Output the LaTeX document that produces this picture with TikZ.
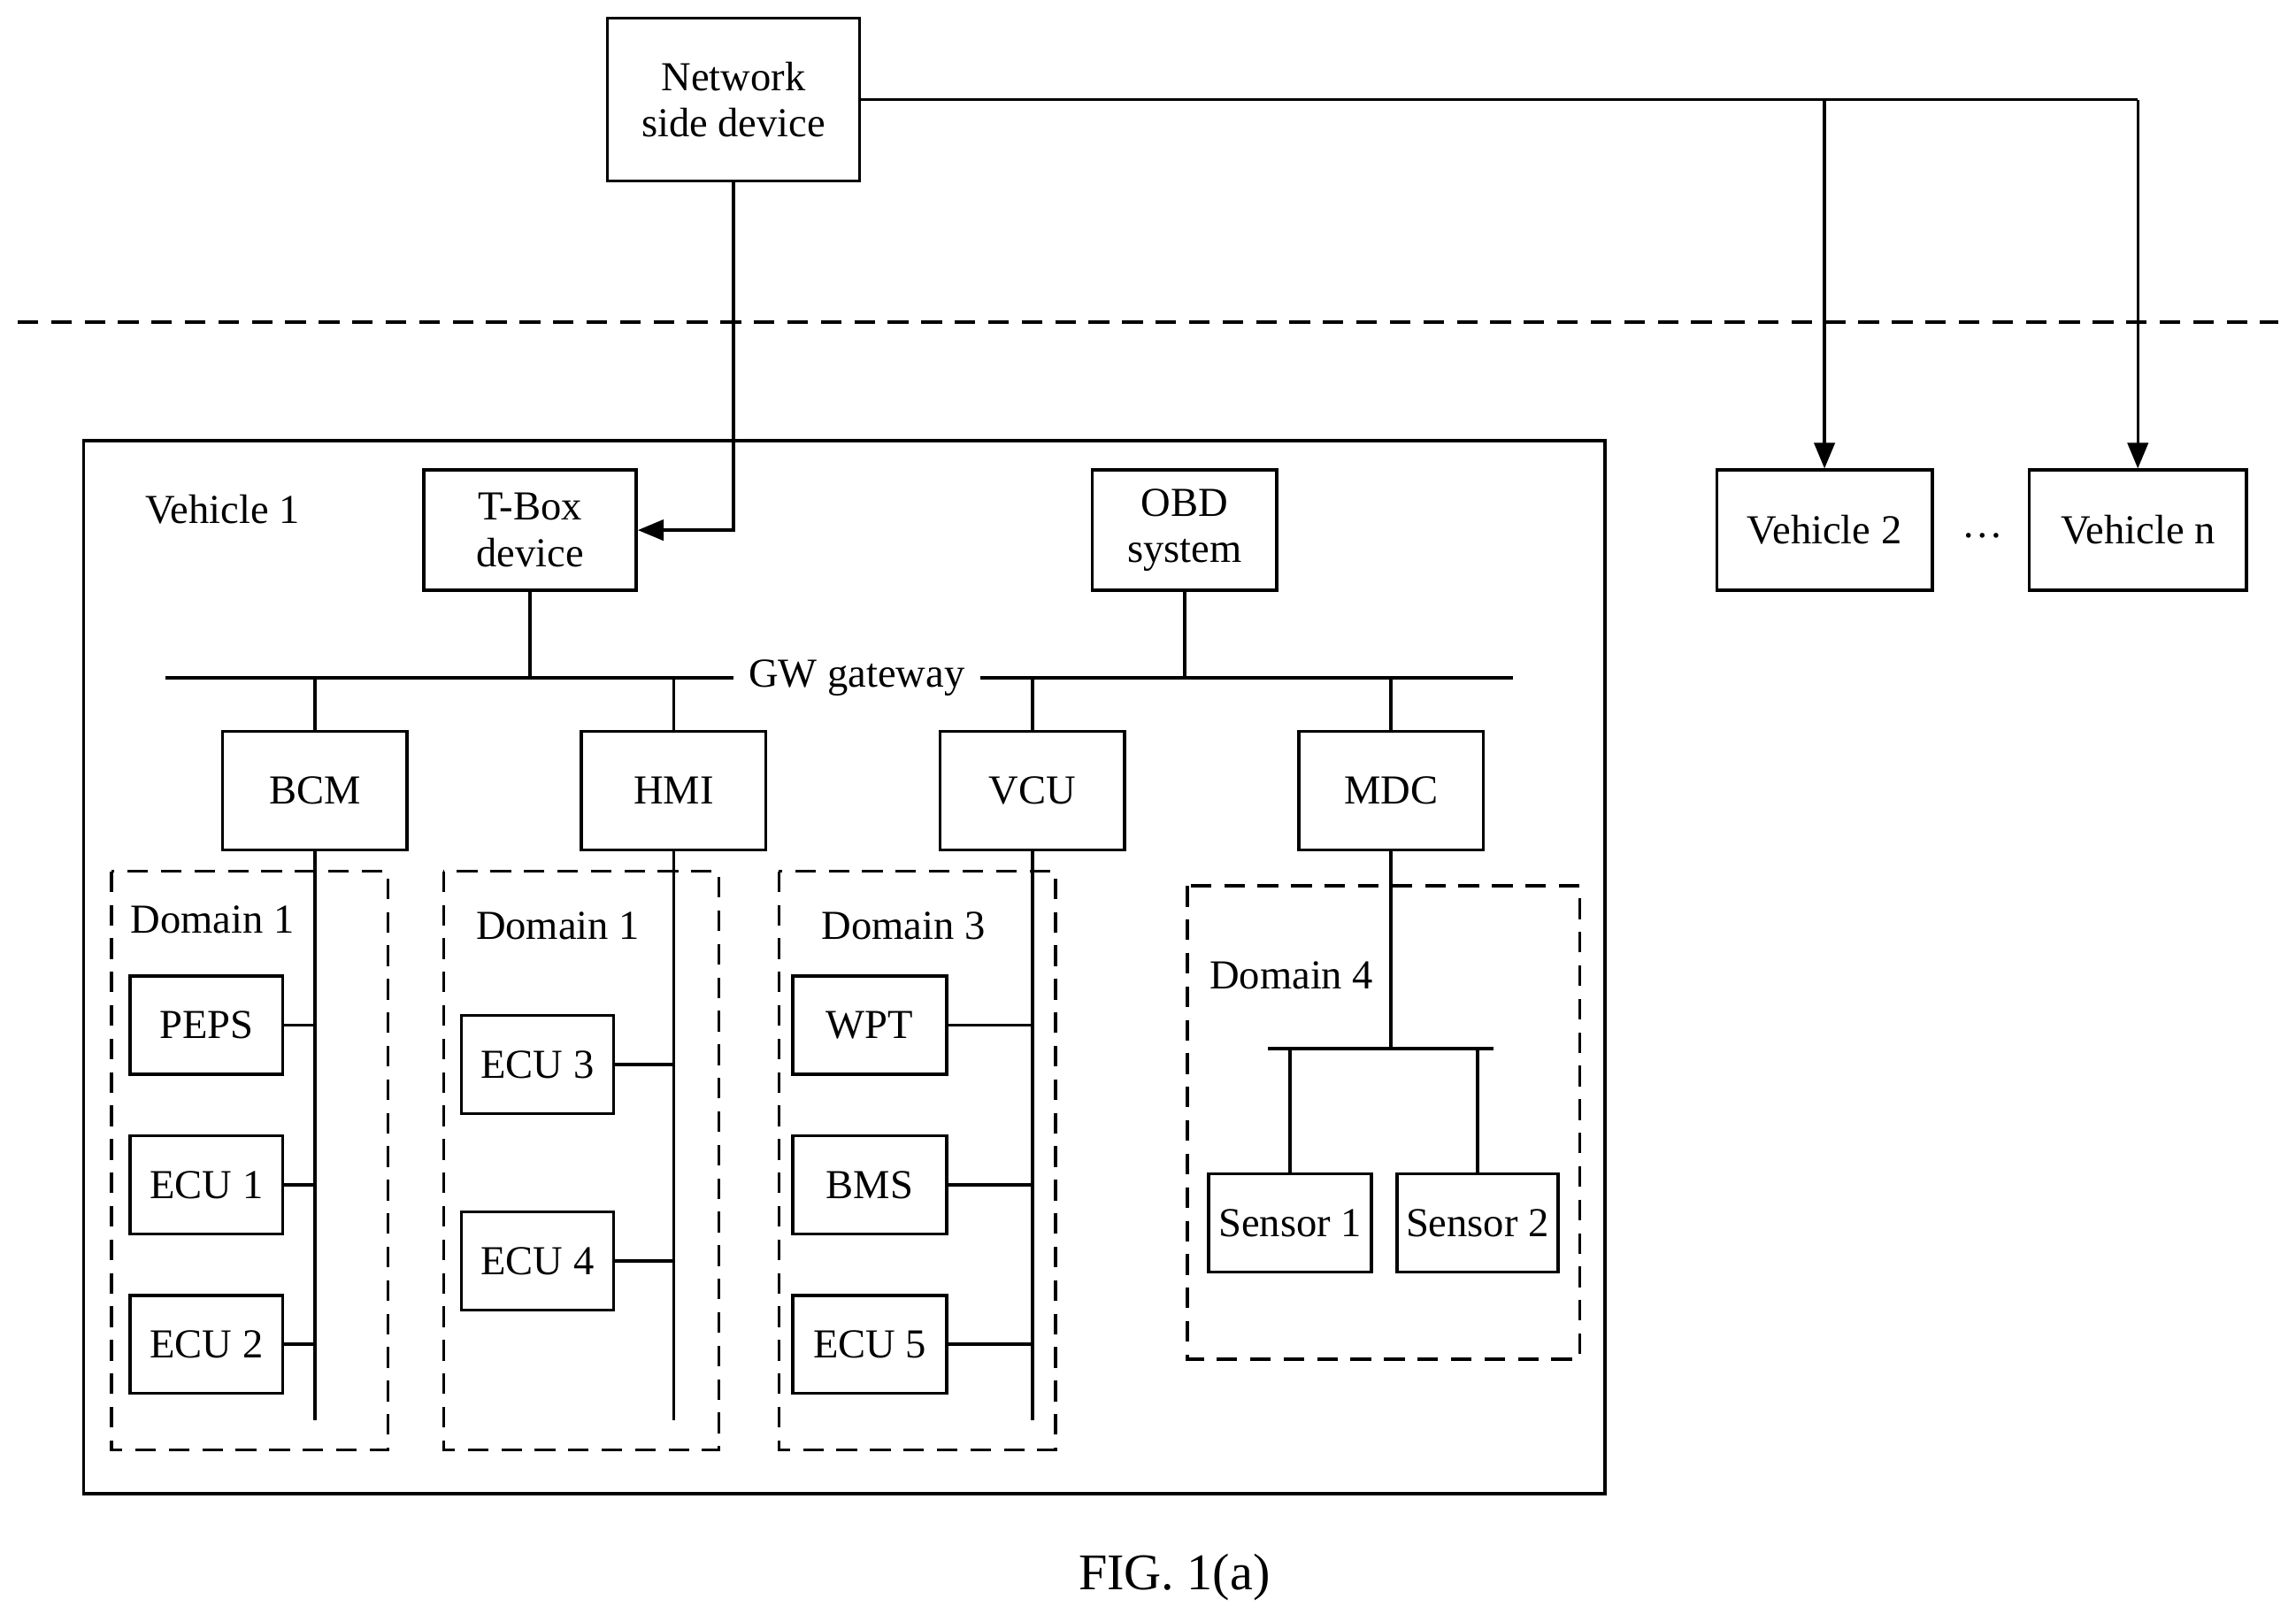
\documentclass[tikz,border=0pt]{standalone}
\usepackage{fontspec}
\setmainfont{Liberation Serif}
\usetikzlibrary{arrows.meta}
\begin{document}
\begin{tikzpicture}[x=0.01cm, y=-0.01cm, >={Triangle[length=5pt,width=4pt]},
		box/.style={draw=black, semithick, align=center, inner sep=1pt, font=\fontsize{8}{9}\selectfont},
		dom/.style={draw=black, semithick, dash pattern=on 4pt off 2.5pt},
		edge_style/.style={draw=black, semithick},
		lbl/.style={font=\fontsize{8}{9}\selectfont}]
	\useasboundingbox (0,0) rectangle (1568,1107);

	\node[box, minimum width=1.72cm, minimum height=1.11cm] (net) at (501,68)  {Network\\side device};
	\draw[dom] (12,220) -- (1556,220);

	\draw[semithick] (57,301) rectangle (1096,1020);
	\node[lbl] (v1) at (152,348) {Vehicle 1};

	\node[box, minimum width=1.45cm, minimum height=0.82cm] (tbox) at (362,362) {T-Box\\device};
	\node[box, minimum width=1.26cm, minimum height=0.82cm] (obd) at (809,362) {OBD\\system};
	\node[box, minimum width=1.47cm, minimum height=0.82cm] (v2) at (1246,362) {Vehicle 2};
	\node[box, minimum width=1.48cm, minimum height=0.82cm] (vn) at (1460,362) {Vehicle n};
	\node[lbl] (dots) at (1354,366) {\dots};

	\coordinate (b2) at (1246,68);
	\coordinate (bn) at (1460,68);
	\draw[edge_style] (net.east |- b2) -- (bn);
	\draw[edge_style,->] (b2) -- (v2.north);
	\draw[edge_style,->] (bn) -- (vn.north);
	\draw[edge_style,->] (net.south) |- (tbox.east);

	% GW gateway bus
	\coordinate (gwl) at (113,463);
	\coordinate (gwr) at (1033,463);
	\draw[edge_style] (gwl) -- (gwr);
	\node[lbl, fill=white, inner sep=3pt] (gw) at (585,463) {GW gateway};
	\draw[edge_style] (tbox.south) -- (tbox.south |- gwl);
	\draw[edge_style] (obd.south) -- (obd.south |- gwl);

	\node[box, minimum width=1.26cm, minimum height=0.81cm] (bcm) at (215,540) {BCM};
	\node[box, minimum width=1.26cm, minimum height=0.81cm] (hmi) at (460,540) {HMI};
	\node[box, minimum width=1.26cm, minimum height=0.81cm] (vcu) at (705,540) {VCU};
	\node[box, minimum width=1.26cm, minimum height=0.81cm] (mdc) at (950,540) {MDC};
	\foreach \n in {bcm,hmi,vcu,mdc}
		\draw[edge_style] (\n.north) -- (\n.north |- gwl);

	% domains
	\draw[dom] (76,595) rectangle (265,990);
	\draw[dom] (303,595) rectangle (491,990);
	\draw[dom] (532,595) rectangle (721,990);
	\draw[dom] (811,605) rectangle (1079,928);
	\node[lbl] (d1) at (145,628) {Domain 1};
	\node[lbl] (d1b) at (381,632) {Domain 1};
	\node[lbl] (d3) at (617,632) {Domain 3};
	\node[lbl] (d4) at (882,666) {Domain 4};

	\coordinate (bcmend) at (215,970);
	\coordinate (hmiend) at (460,970);
	\coordinate (vcuend) at (705,970);
	\draw[edge_style] (bcm.south) -- (bcmend);
	\draw[edge_style] (hmi.south) -- (hmiend);
	\draw[edge_style] (vcu.south) -- (vcuend);

	\node[box, minimum width=1.04cm, minimum height=0.67cm] (peps) at (141,700) {PEPS};
	\node[box, minimum width=1.04cm, minimum height=0.67cm] (ecu1) at (141,809) {ECU 1};
	\node[box, minimum width=1.04cm, minimum height=0.67cm] (ecu2) at (141,918) {ECU 2};
	\node[box, minimum width=1.04cm, minimum height=0.67cm] (ecu3) at (367,727) {ECU 3};
	\node[box, minimum width=1.04cm, minimum height=0.67cm] (ecu4) at (367,861) {ECU 4};
	\node[box, minimum width=1.05cm, minimum height=0.67cm] (wpt) at (594,700) {WPT};
	\node[box, minimum width=1.05cm, minimum height=0.67cm] (bms) at (594,809) {BMS};
	\node[box, minimum width=1.05cm, minimum height=0.67cm] (ecu5) at (594,918) {ECU 5};
	\foreach \n in {peps,ecu1,ecu2}
		\draw[edge_style] (\n.east) -- (\n.east -| bcmend);
	\foreach \n in {ecu3,ecu4}
		\draw[edge_style] (\n.east) -- (\n.east -| hmiend);
	\foreach \n in {wpt,bms,ecu5}
		\draw[edge_style] (\n.east) -- (\n.east -| vcuend);

	\node[box, minimum width=1.11cm, minimum height=0.67cm] (s1) at (881,835) {Sensor 1};
	\node[box, minimum width=1.10cm, minimum height=0.67cm] (s2) at (1009,835) {Sensor 2};
	\coordinate (sl) at (866,716);
	\coordinate (sr) at (1020,716);
	\draw[edge_style] (sl) -- (sr);
	\draw[edge_style] (mdc.south) -- (mdc.south |- sl);
	\draw[edge_style] (s1.north) -- (s1.north |- sl);
	\draw[edge_style] (s2.north) -- (s2.north |- sl);

	\node[font=\fontsize{10}{12}\selectfont] (fig) at (802,1077) {FIG. 1(a)};
\end{tikzpicture}
\end{document}
